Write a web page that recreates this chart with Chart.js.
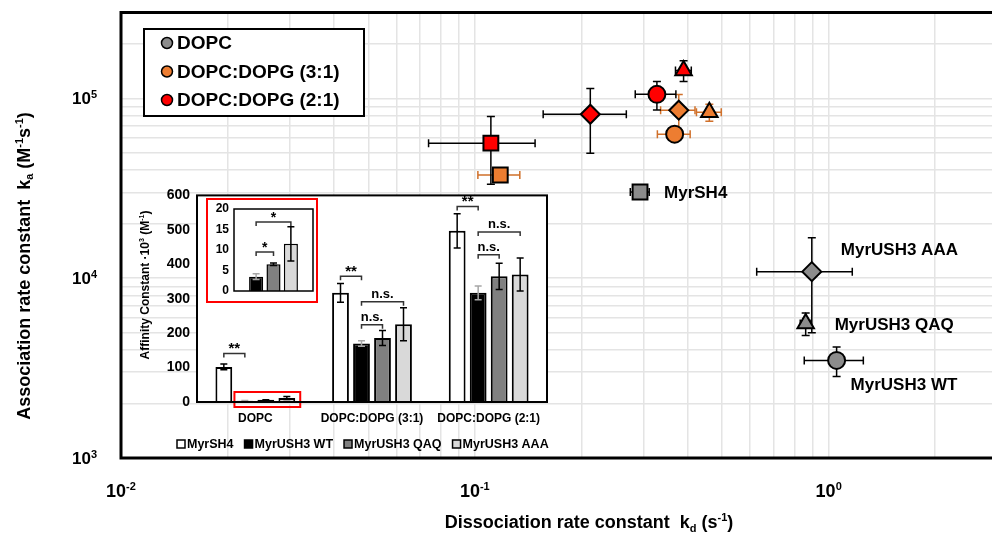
<!DOCTYPE html>
<html>
<head>
<meta charset="utf-8">
<script src="https://cdn.jsdelivr.net/npm/chart.js@4.4.0/dist/chart.umd.min.js"></script>
<style>
  body { margin: 0; background: #fff; overflow: hidden; }
  #wrap { position: relative; width: 992px; height: 536px; overflow: hidden; }
  canvas { position: absolute; }
</style>
</head>
<body>
<div id="wrap">
  <canvas id="main" width="1010" height="536" style="left:0;top:0"></canvas>
  <canvas id="inset" width="430" height="280" style="left:130px;top:180px"></canvas>
  <canvas id="mini" width="125" height="115" style="left:200px;top:192px"></canvas>
</div>
<script>
const FONT = '"Liberation Sans", Arial, sans-serif';

// --- kinetic data (scatter) ---
const lipids = ['DOPC', 'DOPC:DOPG (3:1)', 'DOPC:DOPG (2:1)'];
const peptides = ['MyrSH4', 'MyrUSH3 WT', 'MyrUSH3 QAQ', 'MyrUSH3 AAA'];

const kdDopc = [0.293, 1.053, 0.861, 0.896];
const kdErrDopc = [0.018, 0.2, 0.03, 0.27];
const kaDopc = [30150, 3490, 5600, 10870];
const kaErrDopc = [1000, 650, 800, 5900];

const kd31 = [0.118, 0.367, 0.46, 0.377];
const kdErr31 = [0.016, 0.039, 0.037, 0.042];
const ka31 = [37450, 63200, 83600, 85900];
const kaErr31 = [3000, 4000, 9000, 19000];

const kd21 = [0.111, 0.327, 0.389, 0.212];
const kdErr21 = [0.037, 0.043, 0.02, 0.056];
const ka21 = [56300, 105200, 142900, 81500];
const kaErr21 = [23000, 19000, 19000, 32000];

const xTickExps = [-2, -1, 0];
const yTickExps = [3, 4, 5];

// --- affinity data (inset bars) ---
const categories = ['DOPC', 'DOPC:DOPG (3:1)', 'DOPC:DOPG (2:1)'];
const barNames = ['MyrSH4', 'MyrUSH3 WT', 'MyrUSH3 QAQ', 'MyrUSH3 AAA'];
const affSH4 = [102, 317, 497];
const errSH4 = [8, 27, 50];
const affWT = [3.5, 170, 317];
const errWT = [0.7, 8, 20];
const affQAQ = [6.5, 186, 365];
const errQAQ = [0.3, 22, 38];
const affAAA = [11.5, 226, 370];
const errAAA = [4.2, 48, 48];
const affTicks = [0, 100, 200, 300, 400, 500, 600];
const miniTicks = [0, 5, 10, 15, 20];

// significance brackets: category, bar from, bar to, height (data units), text
const sigCat = [0, 1, 1, 1, 2, 2, 2];
const sigFrom = [0, 0, 1, 1, 0, 1, 1];
const sigTo = [1, 1, 3, 2, 1, 3, 2];
const sigY = [141, 365, 291, 224, 568, 494, 428];
const sigText = ['**', '**', 'n.s.', 'n.s.', '**', 'n.s.', 'n.s.'];
// inside the zoomed DOPC panel (bars WT, QAQ, AAA)
const miniSigFrom = [0, 0];
const miniSigTo = [1, 2];
const miniSigY = [9.5, 16.8];

// helpers
function drawRich(ctx, parts, x, y, size, align) {
  const small = Math.round(size * 0.62);
  let w = 0;
  parts.forEach(p => {
    ctx.font = `bold ${p[1] === 'n' ? size : small}px ${FONT}`;
    w += ctx.measureText(p[0]).width;
  });
  let cx = align === 'center' ? x - w / 2 : align === 'right' ? x - w : x;
  ctx.textAlign = 'left';
  ctx.textBaseline = 'alphabetic';
  parts.forEach(p => {
    const s = p[1] === 'n' ? size : small;
    ctx.font = `bold ${s}px ${FONT}`;
    const dy = p[1] === 'sup' ? -size * 0.38 : p[1] === 'sub' ? size * 0.22 : 0;
    ctx.fillText(p[0], cx, y + dy);
    cx += ctx.measureText(p[0]).width;
  });
}

function logGrid(minExp, max) {
  const out = [];
  for (let e = minExp; ; e++) {
    for (let m = 1; m <= 9; m++) {
      const v = parseFloat((m * Math.pow(10, e)).toPrecision(6));
      if (v > max * 1.0001) return out;
      out.push(v);
    }
  }
}

// ---------------- main scatter ----------------
const markerStyle = ['rect', 'circle', 'triangle', 'rectRot'];
const markerRadius = [10.5, 8.5, 9.5, 9.5];
const labelDx = [24, 14, 29, 29];
const labelDy = [1, 25, 2, -21];

const mainSets = [
  { kd: kdDopc, kdE: kdErrDopc, ka: kaDopc, kaE: kaErrDopc, color: '#8c8c8c', err: '#000' },
  { kd: kd31, kdE: kdErr31, ka: ka31, kaE: kaErr31, color: '#ed7d31', err: '#d0702a' },
  { kd: kd21, kdE: kdErr21, ka: ka21, kaE: kaErr21, color: '#ff0000', err: '#000' }
];

const mainDecor = {
  id: 'mainDecor',
  beforeDatasetsDraw(chart) {
    const ctx = chart.ctx, xs = chart.scales.x, ys = chart.scales.y;
    ctx.save();
    ctx.lineWidth = 1.5;
    mainSets.forEach(s => {
      ctx.strokeStyle = s.err;
      s.kd.forEach((kd, i) => {
        const px = xs.getPixelForValue(kd), py = ys.getPixelForValue(s.ka[i]);
        const x1 = xs.getPixelForValue(kd - s.kdE[i]), x2 = xs.getPixelForValue(kd + s.kdE[i]);
        const y1 = ys.getPixelForValue(s.ka[i] + s.kaE[i]), y2 = ys.getPixelForValue(s.ka[i] - s.kaE[i]);
        ctx.beginPath();
        ctx.moveTo(x1, py); ctx.lineTo(x2, py);
        ctx.moveTo(x1, py - 4); ctx.lineTo(x1, py + 4);
        ctx.moveTo(x2, py - 4); ctx.lineTo(x2, py + 4);
        ctx.moveTo(px, y1); ctx.lineTo(px, y2);
        ctx.moveTo(px - 4, y1); ctx.lineTo(px + 4, y1);
        ctx.moveTo(px - 4, y2); ctx.lineTo(px + 4, y2);
        ctx.stroke();
      });
    });
    ctx.restore();
  },
  afterDraw(chart) {
    const ctx = chart.ctx, xs = chart.scales.x, ys = chart.scales.y, a = chart.chartArea;
    ctx.save();
    ctx.fillStyle = '#000';
    // peptide labels next to the DOPC points
    ctx.font = `bold 17px ${FONT}`;
    ctx.textAlign = 'left';
    ctx.textBaseline = 'middle';
    peptides.forEach((p, i) => {
      ctx.fillText(p, xs.getPixelForValue(kdDopc[i]) + labelDx[i], ys.getPixelForValue(kaDopc[i]) + labelDy[i]);
    });
    // frame
    ctx.strokeStyle = '#000';
    ctx.lineWidth = 3;
    ctx.strokeRect(a.left, a.top, a.right - a.left, a.bottom - a.top);
    // tick labels
    xTickExps.forEach(e => {
      drawRich(ctx, [['10', 'n'], [String(e), 'sup']], xs.getPixelForValue(Math.pow(10, e)), 497, 18, 'center');
    });
    yTickExps.forEach(e => {
      drawRich(ctx, [['10', 'n'], [String(e), 'sup']], 97, ys.getPixelForValue(Math.pow(10, e)) + 6, 17, 'right');
    });
    // axis titles
    drawRich(ctx, [['Dissociation rate constant  k', 'n'], ['d', 'sub'], [' (s', 'n'], ['-1', 'sup'], [')', 'n']],
      589, 528, 18, 'center');
    ctx.save();
    ctx.translate(23, 266);
    ctx.rotate(-Math.PI / 2);
    drawRich(ctx, [['Association rate constant  k', 'n'], ['a', 'sub'], [' (M', 'n'], ['-1', 'sup'], ['s', 'n'], ['-1', 'sup'], [')', 'n']],
      0, 6.5, 18, 'center');
    ctx.restore();
    // legend
    ctx.fillStyle = '#fff';
    ctx.fillRect(144, 29, 220, 87);
    ctx.lineWidth = 2;
    ctx.strokeRect(144, 29, 220, 87);
    lipids.forEach((name, i) => {
      const cy = 43 + i * 28.5;
      ctx.beginPath();
      ctx.arc(167, cy, 5.5, 0, Math.PI * 2);
      ctx.fillStyle = mainSets[i].color;
      ctx.fill();
      ctx.lineWidth = 1.5;
      ctx.stroke();
      ctx.fillStyle = '#000';
      ctx.font = `bold 19px ${FONT}`;
      ctx.textAlign = 'left';
      ctx.textBaseline = 'middle';
      ctx.fillText(name, 177, cy + 1);
    });
    ctx.restore();
  }
};

new Chart(document.getElementById('main'), {
  type: 'scatter',
  data: {
    datasets: mainSets.map((s, k) => ({
      label: lipids[k],
      data: s.kd.map((v, i) => ({ x: v, y: s.ka[i] })),
      backgroundColor: s.color,
      borderColor: '#000',
      borderWidth: 2,
      pointStyle: markerStyle,
      pointRadius: markerRadius,
      pointHoverRadius: markerRadius
    }))
  },
  options: {
    responsive: false,
    animation: false,
    layout: { padding: { left: 121, top: 11, right: 7, bottom: 78 } },
    plugins: { legend: { display: false }, tooltip: { enabled: false } },
    scales: {
      x: {
        type: 'logarithmic', min: 0.01, max: 3,
        afterBuildTicks: sc => { sc.ticks = logGrid(-2, 3).map(v => ({ value: v })); },
        afterFit: sc => { sc.height = 0; },
        ticks: { display: false },
        grid: { color: '#e4e4e4', lineWidth: 1.5, drawTicks: false },
        border: { display: false }
      },
      y: {
        type: 'logarithmic', min: 1000, max: 300000,
        afterBuildTicks: sc => { sc.ticks = logGrid(3, 300000).map(v => ({ value: v })); },
        afterFit: sc => { sc.width = 0; },
        ticks: { display: false },
        grid: { color: '#e4e4e4', lineWidth: 1.5, drawTicks: false },
        border: { display: false }
      }
    }
  },
  plugins: [mainDecor]
});

// ---------------- inset bar chart ----------------
const barFill = ['#ffffff', '#000000', '#808080', '#d9d9d9'];
const barVals = [affSH4, affWT, affQAQ, affAAA];
const barErrs = [errSH4, errWT, errQAQ, errAAA];

function drawBracket(ctx, x1, x2, y, text, size) {
  ctx.beginPath();
  ctx.moveTo(x1, y + 4); ctx.lineTo(x1, y); ctx.lineTo(x2, y); ctx.lineTo(x2, y + 4);
  ctx.stroke();
  ctx.font = `bold ${size}px ${FONT}`;
  ctx.textAlign = 'center';
  ctx.textBaseline = 'bottom';
  ctx.fillText(text, (x1 + x2) / 2, text === 'n.s.' ? y - 1 : y + 3);
}

function drawErrBars(chart, vals, errs, colors) {
  const ctx = chart.ctx, ys = chart.scales.y;
  ctx.save();
  ctx.lineWidth = 1.5;
  vals.forEach((arr, d) => {
    const meta = chart.getDatasetMeta(d);
    ctx.strokeStyle = colors[d];
    meta.data.forEach((bar, i) => {
      const v = arr[i], e = errs[d][i];
      const t = ys.getPixelForValue(v + e), b = ys.getPixelForValue(v - e);
      ctx.beginPath();
      ctx.moveTo(bar.x, t); ctx.lineTo(bar.x, b);
      ctx.moveTo(bar.x - 3.5, t); ctx.lineTo(bar.x + 3.5, t);
      ctx.moveTo(bar.x - 3.5, b); ctx.lineTo(bar.x + 3.5, b);
      ctx.stroke();
    });
  });
  ctx.restore();
}

const insetDecor = {
  id: 'insetDecor',
  beforeDraw(chart) {
    const a = chart.chartArea, ctx = chart.ctx;
    ctx.save();
    ctx.fillStyle = '#fff';
    ctx.fillRect(a.left, a.top, a.right - a.left, a.bottom - a.top);
    ctx.restore();
  },
  afterDatasetsDraw(chart) {
    const ctx = chart.ctx, a = chart.chartArea, ys = chart.scales.y;
    drawErrBars(chart, barVals, barErrs, ['#000', '#a6a6a6', '#000', '#000']);
    ctx.save();
    // brackets
    ctx.strokeStyle = '#333';
    ctx.fillStyle = '#000';
    ctx.lineWidth = 1.5;
    sigCat.forEach((c, k) => {
      const b1 = chart.getDatasetMeta(sigFrom[k]).data[c];
      const b2 = chart.getDatasetMeta(sigTo[k]).data[c];
      drawBracket(ctx, b1.x, b2.x, ys.getPixelForValue(sigY[k]), sigText[k], sigText[k] === 'n.s.' ? 13 : 15);
    });
    // red highlight around the small DOPC bars
    const w0 = chart.getDatasetMeta(1).data[0], w3 = chart.getDatasetMeta(3).data[0];
    ctx.strokeStyle = '#ff0000';
    ctx.lineWidth = 2;
    ctx.strokeRect(w0.x - w0.width / 2 - 2, a.bottom - 10, (w3.x + w3.width / 2 + 5) - (w0.x - w0.width / 2 - 2), 15);
    // frame
    ctx.strokeStyle = '#000';
    ctx.lineWidth = 2;
    ctx.strokeRect(a.left, a.top, a.right - a.left, a.bottom - a.top);
    // legend
    let lx = 47;
    const ly = 264;
    ctx.font = `bold 12.5px ${FONT}`;
    ctx.textAlign = 'left';
    ctx.textBaseline = 'middle';
    barNames.forEach((n, i) => {
      ctx.fillStyle = barFill[i];
      ctx.fillRect(lx, ly - 4, 8, 8);
      ctx.lineWidth = 1.5;
      ctx.strokeStyle = '#000';
      ctx.strokeRect(lx, ly - 4, 8, 8);
      ctx.fillStyle = '#000';
      ctx.fillText(n, lx + 10, ly + 1);
      lx += 10 + ctx.measureText(n).width + 11;
    });
    // y title
    ctx.translate(15, 105);
    ctx.rotate(-Math.PI / 2);
    drawRich(ctx, [['Affinity Constant ·10', 'n'], ['3', 'sup'], [' (M', 'n'], ['-1', 'sup'], [')', 'n']], 0, 4, 12, 'center');
    ctx.restore();
  }
};

new Chart(document.getElementById('inset'), {
  type: 'bar',
  data: {
    labels: categories,
    datasets: barNames.map((n, i) => ({
      label: n,
      data: barVals[i],
      backgroundColor: barFill[i],
      borderColor: '#000',
      borderWidth: 2,
      categoryPercentage: 0.72,
      barPercentage: 0.8
    }))
  },
  options: {
    responsive: false,
    animation: false,
    layout: { padding: { left: 0, top: 13, right: 13, bottom: 0 } },
    plugins: { legend: { display: false }, tooltip: { enabled: false } },
    scales: {
      x: {
        afterFit: sc => { sc.height = 58; },
        grid: { display: false, drawTicks: false },
        border: { display: false },
        ticks: { color: '#000', font: { family: FONT, size: 12, weight: 'bold' }, padding: 9, maxRotation: 0 }
      },
      y: {
        min: 0, max: 600,
        afterBuildTicks: sc => { sc.ticks = affTicks.map(v => ({ value: v })); },
        afterFit: sc => { sc.width = 67; },
        grid: { display: false, drawTicks: false },
        border: { display: false },
        ticks: { color: '#000', font: { family: FONT, size: 14, weight: 'bold' }, padding: 7 }
      }
    }
  },
  plugins: [insetDecor]
});

// ---------------- zoomed DOPC panel ----------------
const miniVals = [[affWT[0]], [affQAQ[0]], [affAAA[0]]];
const miniErrs = [[errWT[0]], [errQAQ[0]], [errAAA[0]]];

const miniDecor = {
  id: 'miniDecor',
  beforeDraw(chart) {
    const ctx = chart.ctx;
    ctx.save();
    ctx.fillStyle = '#fff';
    ctx.fillRect(7, 7, 110, 103);
    ctx.strokeStyle = '#ff0000';
    ctx.lineWidth = 2;
    ctx.strokeRect(7, 7, 110, 103);
    ctx.restore();
  },
  afterDatasetsDraw(chart) {
    const ctx = chart.ctx, a = chart.chartArea, ys = chart.scales.y;
    drawErrBars(chart, miniVals, miniErrs, ['#a6a6a6', '#000', '#000']);
    ctx.save();
    ctx.strokeStyle = '#333';
    ctx.fillStyle = '#000';
    ctx.lineWidth = 1.5;
    miniSigFrom.forEach((f, k) => {
      const b1 = chart.getDatasetMeta(f).data[0], b2 = chart.getDatasetMeta(miniSigTo[k]).data[0];
      drawBracket(ctx, b1.x, b2.x, ys.getPixelForValue(miniSigY[k]), '*', 14);
    });
    ctx.strokeStyle = '#000';
    ctx.lineWidth = 1.5;
    ctx.strokeRect(a.left, a.top, a.right - a.left, a.bottom - a.top);
    ctx.restore();
  }
};

new Chart(document.getElementById('mini'), {
  type: 'bar',
  data: {
    labels: [categories[0]],
    datasets: miniVals.map((v, i) => ({
      label: barNames[i + 1],
      data: v,
      backgroundColor: barFill[i + 1],
      borderColor: '#000',
      borderWidth: 1.5,
      categoryPercentage: 0.66,
      barPercentage: 0.81
    }))
  },
  options: {
    responsive: false,
    animation: false,
    layout: { padding: { left: 0, top: 17, right: 12, bottom: 0 } },
    plugins: { legend: { display: false }, tooltip: { enabled: false } },
    scales: {
      x: {
        afterFit: sc => { sc.height = 16; },
        grid: { display: false, drawTicks: false },
        border: { display: false },
        ticks: { display: false }
      },
      y: {
        min: 0, max: 20,
        afterBuildTicks: sc => { sc.ticks = miniTicks.map(v => ({ value: v })); },
        afterFit: sc => { sc.width = 34; },
        grid: { display: false, drawTicks: false },
        border: { display: false },
        ticks: { color: '#000', font: { family: FONT, size: 12, weight: 'bold' }, padding: 5 }
      }
    }
  },
  plugins: [miniDecor]
});
</script>
</body>
</html>
